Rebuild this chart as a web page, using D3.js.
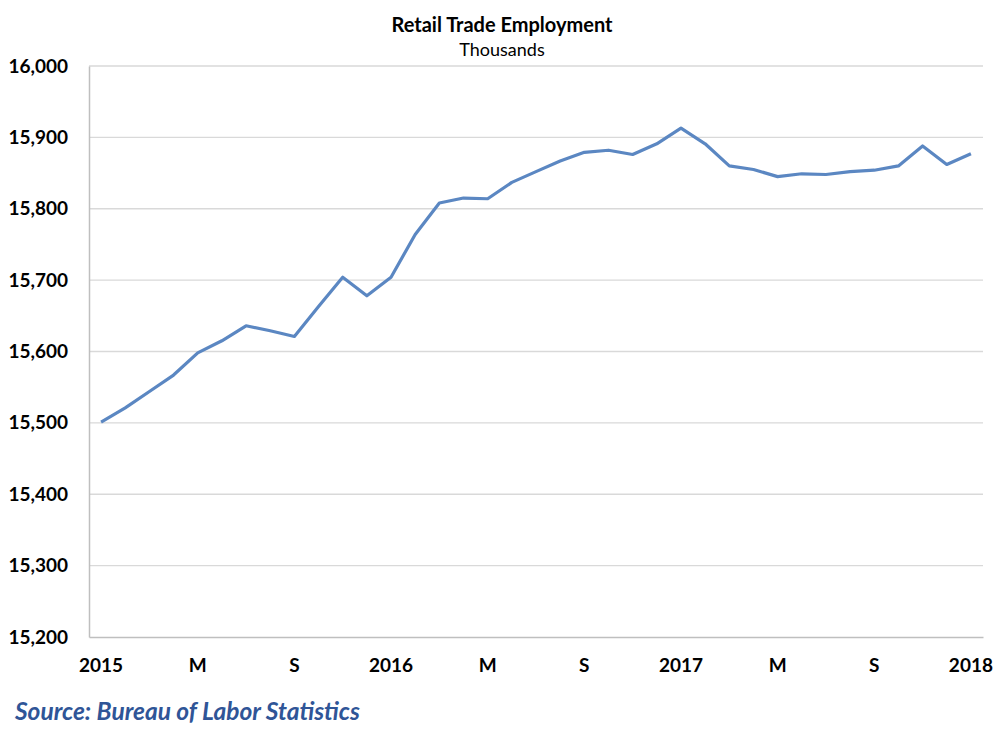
<!DOCTYPE html>
<html>
<head>
<meta charset="utf-8">
<script src="https://cdn.jsdelivr.net/npm/d3@7"></script>
<style>
  body { margin: 0; background: #fff; }
  svg { display: block; font-family: Lato, "Open Sans", sans-serif; }
</style>
</head>
<body>
<svg id="chart" width="1000" height="739"></svg>
<script>
// Monthly retail trade employment, Jan 2015 - Jan 2018 (thousands)
const months = d3.range(37).map(i => new Date(2015, i, 1));
const employment = [
  15501, 15521, 15544, 15567, 15598, 15615, 15636, 15629, 15621, 15663,
  15704, 15678, 15704, 15764, 15808, 15815, 15814, 15837, 15852, 15867,
  15879, 15882, 15876, 15891, 15913, 15891, 15860, 15855, 15845, 15849,
  15848, 15852, 15854, 15860, 15888, 15862, 15877
];
const yTicks = [15200, 15300, 15400, 15500, 15600, 15700, 15800, 15900, 16000];
const xLabel = (d, i) => i % 12 === 0 ? String(d.getFullYear()) : (i % 12 === 4 ? "M" : (i % 12 === 8 ? "S" : ""));

const margin = { top: 66, right: 17, bottom: 102, left: 89 },
    width = 1000 - margin.left - margin.right,
    height = 739 - margin.top - margin.bottom;

const svg = d3.select("#chart");
const g = svg.append("g").attr("transform", `translate(${margin.left},${margin.top})`);

const x = d3.scaleBand().domain(d3.range(months.length)).range([0, width]);
const y = d3.scaleLinear().domain([15200, 16000]).range([height, 0]);

// Gridlines
g.selectAll(".grid")
  .data(yTicks.slice(1))
  .enter().append("line")
  .attr("x1", 0).attr("x2", width)
  .attr("y1", d => y(d)).attr("y2", d => y(d))
  .attr("stroke", "#d9d9d9").attr("stroke-width", 1.3);

// Y axis
const yAxis = g.append("g")
  .call(d3.axisLeft(y).tickValues(yTicks).tickFormat(d3.format(",")).tickSize(0).tickPadding(21));
yAxis.attr("font-family", "Lato, sans-serif");
yAxis.select(".domain").attr("stroke", "#bfbfbf").attr("stroke-width", 1.5);
yAxis.selectAll("text")
  .attr("font-size", 19).attr("font-weight", "bold").attr("fill", "#000");

// X axis
const xAxis = g.append("g")
  .attr("transform", `translate(0,${height})`)
  .call(d3.axisBottom(x).tickSize(0).tickPadding(22).tickFormat(i => xLabel(months[i], i)));
xAxis.attr("font-family", "Lato, sans-serif");
xAxis.select(".domain").attr("stroke", "#bfbfbf").attr("stroke-width", 1.5);
xAxis.selectAll("text")
  .attr("font-size", 19).attr("font-weight", "bold").attr("fill", "#000");

// Line
const line = d3.line()
  .x((d, i) => x(i) + x.bandwidth() / 2)
  .y(d => y(d));

g.append("path")
  .datum(employment)
  .attr("fill", "none")
  .attr("stroke", "#5b87c2")
  .attr("stroke-width", 3.2)
  .attr("stroke-linejoin", "round")
  .attr("d", line);

// Titles
svg.append("text")
  .attr("x", 502).attr("y", 32)
  .attr("text-anchor", "middle")
  .attr("font-size", 20).attr("font-weight", "bold")
  .text("Retail Trade Employment");

svg.append("text")
  .attr("x", 502).attr("y", 56)
  .attr("text-anchor", "middle")
  .attr("font-size", 18)
  .text("Thousands");

// Source
svg.append("text")
  .attr("x", 15).attr("y", 720)
  .attr("font-size", 24.5).attr("font-weight", "bold").attr("font-style", "italic")
  .attr("fill", "#2f5597")
  .text("Source: Bureau of Labor Statistics");
</script>
</body>
</html>
